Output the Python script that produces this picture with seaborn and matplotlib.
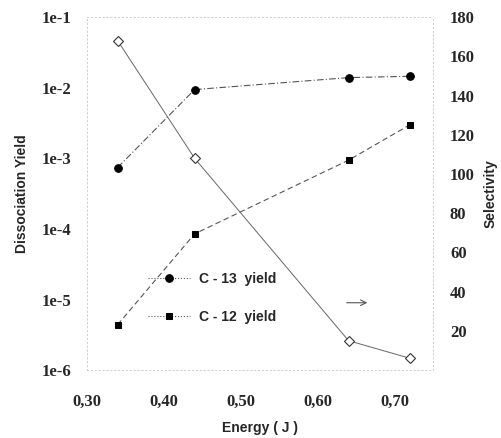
import pandas as pd
import matplotlib
matplotlib.use("Agg")
import matplotlib.pyplot as plt
import seaborn as sns

# values
energy = [0.34, 0.44, 0.64, 0.72]
c13_yield = [7.4e-4, 9.4e-3, 1.39e-2, 1.45e-2]
c12_yield = [4.4e-6, 8.5e-5, 9.4e-4, 3.0e-3]
selectivity = [168, 108, 15, 6]

x_ticks = [0.30, 0.40, 0.50, 0.60, 0.70]
y_ticks = [1e-6, 1e-5, 1e-4, 1e-3, 1e-2, 1e-1]
y_labels = ["1e-6", "1e-5", "1e-4", "1e-3", "1e-2", "1e-1"]
sel_ticks = [20, 40, 60, 80, 100, 120, 140, 160, 180]


def main():
    sns.set_style("white")
    plt.rcParams["font.family"] = ["Liberation Sans", "DejaVu Sans"]

    df = pd.DataFrame({"energy": energy, "c13": c13_yield,
                       "c12": c12_yield, "sel": selectivity})

    fig = plt.figure(figsize=(5.02, 4.38), dpi=100)
    ax = fig.add_axes([0.173, 0.155, 0.69, 0.806])
    ax2 = ax.twinx()

    sns.lineplot(data=df, x="energy", y="c13", ax=ax, color="#555555",
                 lw=0.8, marker="o", markersize=5.5, markerfacecolor="black",
                 markeredgecolor="black", linestyle=(0, (6, 2, 1, 2)),
                 label="C - 13  yield")
    sns.lineplot(data=df, x="energy", y="c12", ax=ax, color="#555555",
                 lw=0.8, marker="s", markersize=5, markerfacecolor="black",
                 markeredgecolor="black", linestyle=(0, (5, 3)),
                 label="C - 12  yield")
    sns.lineplot(data=df, x="energy", y="sel", ax=ax2, color="#666666",
                 lw=0.7, marker="D", markersize=5, markerfacecolor="white",
                 markeredgecolor="#333333", markeredgewidth=0.8, legend=False)

    ax.set_yscale("log")
    ax.set_ylim(1e-6, 1e-1)
    ax.set_xlim(0.30, 0.75)
    ax2.set_ylim(0, 180)

    ax.set_xticks(x_ticks)
    ax.set_xticklabels([f"{v:.2f}".replace(".", ",") for v in x_ticks])
    ax.set_yticks(y_ticks)
    ax.set_yticklabels(y_labels)
    ax.minorticks_off()
    ax2.set_yticks(sel_ticks)
    ax2.set_yticklabels([str(v) for v in sel_ticks])

    for a in (ax, ax2):
        a.tick_params(length=0, labelsize=12)
        for lab in a.get_xticklabels() + a.get_yticklabels():
            lab.set_fontfamily("Liberation Serif")
            lab.set_fontweight("bold")
        for sp in a.spines.values():
            sp.set_color("#d0d0d0")
            sp.set_linestyle((0, (1, 3)))
            sp.set_linewidth(0.7)
    ax.tick_params(axis="y", pad=11)
    ax.tick_params(axis="x", pad=17)
    ax2.tick_params(axis="y", pad=12)

    ax.set_xlabel("Energy ( J )", fontsize=10, fontweight="bold", labelpad=8)
    ax.set_ylabel("Dissociation Yield", fontsize=10, fontweight="bold", labelpad=9)
    ax2.set_ylabel("Selectivity", fontsize=10, fontweight="bold", labelpad=6)

    leg = ax.legend(loc="center left", bbox_to_anchor=(0.14, 0.205), frameon=False,
                    handlelength=3, labelspacing=1.7, handletextpad=0.7,
                    prop={"weight": "bold", "size": 10})
    for h in leg.get_lines():
        h.set_linestyle(":")

    ax.annotate("", xy=(0.668, 9e-6), xytext=(0.634, 9e-6),
                arrowprops=dict(arrowstyle="->", color="#555555", lw=0.8))

    fig.savefig("out.png", dpi=100)


if __name__ == "__main__":
    main()
